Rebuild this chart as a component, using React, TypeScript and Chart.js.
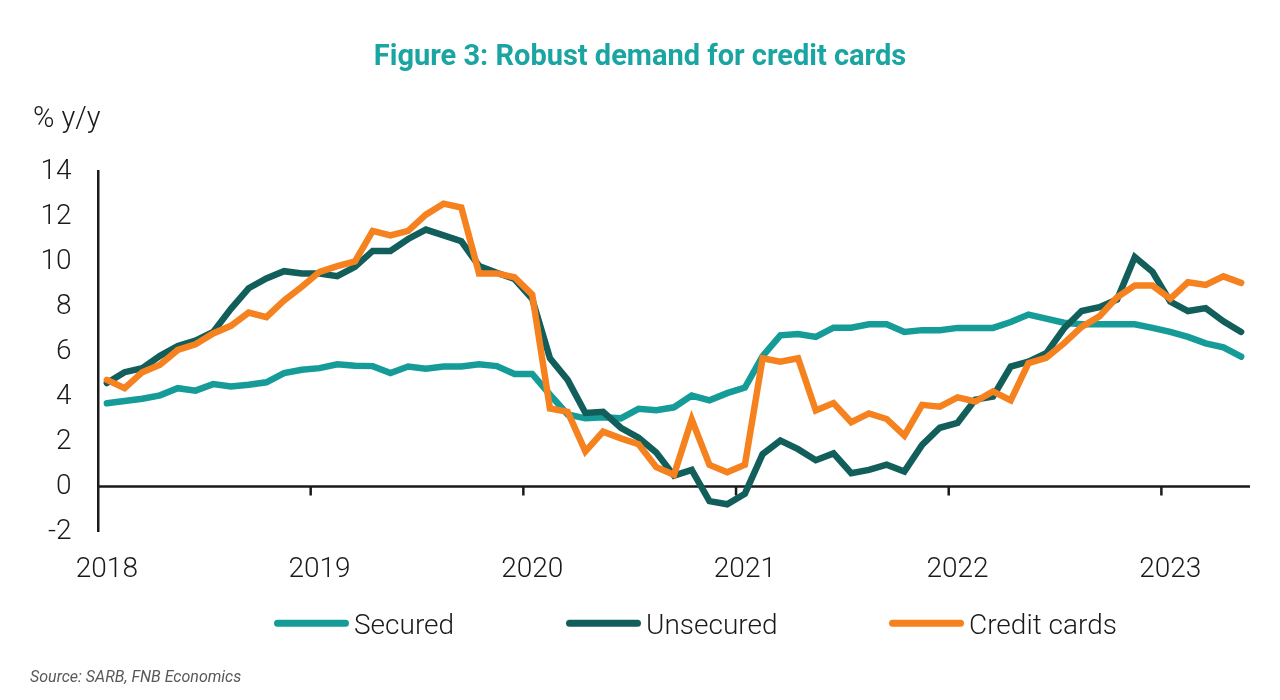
import React, { useEffect, useRef } from "react";
import { Chart, registerables } from "chart.js";

Chart.register(...registerables);

// ---------- DATA ----------
const categories: string[] = [
  "2018-01", "2018-02", "2018-03", "2018-04", "2018-05", "2018-06", "2018-07", "2018-08", "2018-09", "2018-10", "2018-11", "2018-12",
  "2019-01", "2019-02", "2019-03", "2019-04", "2019-05", "2019-06", "2019-07", "2019-08", "2019-09", "2019-10", "2019-11", "2019-12",
  "2020-01", "2020-02", "2020-03", "2020-04", "2020-05", "2020-06", "2020-07", "2020-08", "2020-09", "2020-10", "2020-11", "2020-12",
  "2021-01", "2021-02", "2021-03", "2021-04", "2021-05", "2021-06", "2021-07", "2021-08", "2021-09", "2021-10", "2021-11", "2021-12",
  "2022-01", "2022-02", "2022-03", "2022-04", "2022-05", "2022-06", "2022-07", "2022-08", "2022-09", "2022-10", "2022-11", "2022-12",
  "2023-01", "2023-02", "2023-03", "2023-04", "2023-05",
];

const yearTickLabels: string[] = ["2018", "2019", "2020", "2021", "2022", "2023"];

const securedValues: number[] = [
  3.7, 3.8, 3.9, 4.05, 4.37, 4.26, 4.55, 4.45, 4.52, 4.63, 5.04, 5.19,
  5.26, 5.43, 5.37, 5.35, 5.04, 5.33, 5.23, 5.33, 5.33, 5.43, 5.35, 5.0,
  5.0, 4.08, 3.2, 3.03, 3.08, 3.03, 3.45, 3.39, 3.52, 4.04, 3.83, 4.15,
  4.4, 5.79, 6.72, 6.78, 6.65, 7.06, 7.06, 7.21, 7.21, 6.87, 6.95, 6.95,
  7.05, 7.05, 7.05, 7.31, 7.64, 7.46, 7.28, 7.21, 7.21, 7.21, 7.21, 7.05,
  6.87, 6.65, 6.36, 6.18, 5.77,
];

const unsecuredValues: number[] = [
  4.6, 5.08, 5.26, 5.81, 6.24, 6.48, 6.87, 7.9, 8.81, 9.25, 9.57, 9.47,
  9.47, 9.35, 9.76, 10.47, 10.47, 11.0, 11.42, 11.16, 10.9, 9.8, 9.5, 9.22,
  8.34, 5.7, 4.74, 3.27, 3.32, 2.61, 2.17, 1.51, 0.48, 0.74, -0.65, -0.79,
  -0.32, 1.44, 2.04, 1.66, 1.17, 1.47, 0.59, 0.74, 0.97, 0.67, 1.85, 2.61,
  2.83, 3.86, 4.0, 5.33, 5.55, 5.92, 7.02, 7.8, 7.97, 8.31, 10.2, 9.54,
  8.22, 7.8, 7.93, 7.34, 6.87,
];

const creditCardValues: number[] = [
  4.74, 4.37, 5.08, 5.41, 6.07, 6.32, 6.8, 7.14, 7.73, 7.53, 8.27, 8.88,
  9.54, 9.79, 10.0, 11.36, 11.16, 11.36, 12.08, 12.57, 12.4, 9.47, 9.47, 9.3,
  8.53, 3.47, 3.32, 1.56, 2.44, 2.14, 1.88, 0.86, 0.52, 2.98, 0.96, 0.63,
  0.97, 5.7, 5.55, 5.7, 3.38, 3.71, 2.86, 3.25, 3.0, 2.26, 3.63, 3.55,
  3.96, 3.78, 4.23, 3.83, 5.48, 5.72, 6.36, 7.09, 7.56, 8.41, 8.93, 8.93,
  8.34, 9.08, 8.96, 9.34, 9.05,
];

const seriesNames: string[] = ["Secured", "Unsecured", "Credit cards"];

const Y_MIN = -2;
const Y_MAX = 14;
const Y_STEP = 2;

const TITLE = "Figure 3: Robust demand for credit cards";
const Y_UNIT = "% y/y";
const SOURCE = "Source: SARB, FNB Economics";

// ---------- STYLE ----------
const FONT = "Roboto";
const INK = "#1a1a1a";
const TITLE_COLOR = "#1aa5a2";
const SECURED_COLOR = "#169c98";
const UNSECURED_COLOR = "#125e5b";
const CREDIT_COLOR = "#f5821f";

const overlayPlugin = {
  id: "overlay",
  beforeDatasetsDraw(chart: any) {
    const { ctx, chartArea, scales } = chart;
    const xs = scales.x;
    const y0 = scales.y.getPixelForValue(0);
    ctx.save();
    ctx.strokeStyle = INK;
    ctx.lineWidth = 2.5;
    ctx.beginPath();
    ctx.moveTo(chartArea.left, y0);
    ctx.lineTo(chartArea.right, y0);
    ctx.stroke();
    for (let i = 1; i < categories.length; i++) {
      if (categories[i].endsWith("-01")) {
        const px = (xs.getPixelForValue(i - 1) + xs.getPixelForValue(i)) / 2;
        ctx.beginPath();
        ctx.moveTo(px, y0);
        ctx.lineTo(px, y0 + 9);
        ctx.stroke();
      }
    }
    ctx.restore();
  },
  afterDraw(chart: any) {
    const { ctx } = chart;
    ctx.save();
    ctx.fillStyle = INK;
    ctx.textAlign = "left";
    ctx.textBaseline = "alphabetic";
    ctx.font = `300 29px ${FONT}`;
    ctx.fillText(Y_UNIT, 33, 127);

    // legend
    const starts = [274, 566, 889];
    ctx.font = `300 28px ${FONT}`;
    chart.data.datasets.forEach((ds: any, i: number) => {
      const sx = starts[i];
      ctx.fillStyle = ds.borderColor;
      ctx.beginPath();
      (ctx as any).roundRect(sx, 619.8, 75, 7, 3.5);
      ctx.fill();
      ctx.fillStyle = INK;
      ctx.fillText(ds.label, sx + 80, 634);
    });
    ctx.restore();
  },
};

export default function App() {
  const canvasRef = useRef<HTMLCanvasElement | null>(null);

  useEffect(() => {
    if (!canvasRef.current) return;
    const chart = new Chart(canvasRef.current, {
      type: "line",
      data: {
        labels: categories,
        datasets: [
          {
            label: seriesNames[0],
            data: securedValues,
            borderColor: SECURED_COLOR,
            backgroundColor: SECURED_COLOR,
            borderWidth: 6.5,
            pointRadius: 0,
            tension: 0,
            borderCapStyle: "round",
            order: 2,
          },
          {
            label: seriesNames[1],
            data: unsecuredValues,
            borderColor: UNSECURED_COLOR,
            backgroundColor: UNSECURED_COLOR,
            borderWidth: 6.5,
            pointRadius: 0,
            tension: 0,
            borderCapStyle: "round",
            order: 1,
          },
          {
            label: seriesNames[2],
            data: creditCardValues,
            borderColor: CREDIT_COLOR,
            backgroundColor: CREDIT_COLOR,
            borderWidth: 6.5,
            pointRadius: 0,
            tension: 0,
            borderCapStyle: "round",
            order: 0,
          },
        ],
      },
      options: {
        responsive: false,
        animation: false,
        layout: { padding: { left: 30, right: 30, top: 0, bottom: 0 } },
        plugins: {
          legend: { display: false },
          tooltip: { enabled: false },
          title: {
            display: true,
            text: TITLE,
            color: TITLE_COLOR,
            font: { family: FONT, size: 29, weight: "bold" },
            padding: { top: 40, bottom: 96.7 },
          },
          subtitle: {
            display: true,
            text: SOURCE,
            position: "bottom",
            align: "start",
            color: "#595959",
            font: { family: FONT, size: 16, style: "italic" },
            padding: { top: 37.3, bottom: 12 },
          },
        },
        scales: {
          x: {
            type: "category",
            offset: true,
            grid: { display: false, drawTicks: false, tickLength: 0 },
            border: { display: false },
            ticks: {
              autoSkip: false,
              maxRotation: 0,
              minRotation: 0,
              padding: 22,
              color: INK,
              font: { family: FONT, size: 28, weight: "300" },
              callback: (_v: any, i: number) => {
                const c = categories[i];
                if (!c || !c.endsWith("-01")) return "";
                const y = c.slice(0, 4);
                return yearTickLabels.includes(y) ? y : "";
              },
            },
            afterFit: (scale: any) => {
              scale.height = 100;
            },
          },
          y: {
            min: Y_MIN,
            max: Y_MAX,
            grid: { display: false, drawTicks: false, tickLength: 0 },
            border: { display: true, color: INK, width: 2.5 },
            ticks: {
              stepSize: Y_STEP,
              padding: 26.5,
              color: INK,
              font: { family: FONT, size: 28, weight: "300" },
            },
            afterFit: (scale: any) => {
              scale.width = 68;
            },
          },
        },
      },
      plugins: [overlayPlugin],
    } as any);
    return () => chart.destroy();
  }, []);

  return (
    <div style={{ position: "absolute", left: 0, top: 0, width: 1280, height: 700, background: "#fff" }}>
      <canvas ref={canvasRef} width={1280} height={700} />
    </div>
  );
}
